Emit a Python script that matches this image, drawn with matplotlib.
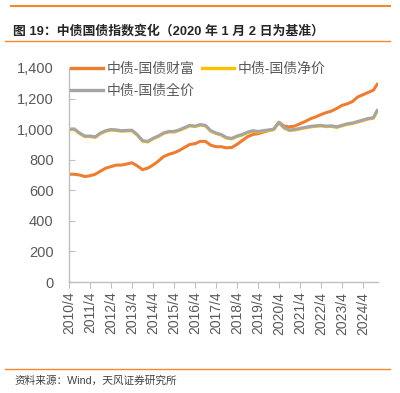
import matplotlib.pyplot as plt
from matplotlib.lines import Line2D
import pandas as pd

plt.rcParams['font.family'] = ['Liberation Sans', 'Noto Sans CJK SC']

# 季度数据（2020年1月2日 = 1000）
dates = list(pd.date_range('2010-04-01', '2024-10-01', freq='QS-JAN')) + [pd.Timestamp('2024-12-05')]

wealth = [705, 705, 700, 690, 695, 705, 725, 745, 755, 765, 765, 772, 780, 760, 735,
          745, 765, 790, 820, 835, 845, 860, 880, 900, 905, 920, 920, 895, 885, 885,
          878, 880, 900, 925, 950, 965, 970, 980, 990, 1000, 1045, 1020, 1015, 1020, 1035,
          1050, 1068, 1080, 1095, 1108, 1118, 1135, 1155, 1165, 1180, 1210, 1225, 1240, 1255, 1293]

full_price = [1000, 1002, 975, 955, 955, 950, 975, 990, 998, 995, 990, 992, 993, 965, 925,
              920, 940, 955, 975, 985, 985, 995, 1010, 1025, 1020, 1030, 1025, 990, 975, 965,
              945, 940, 955, 965, 980, 990, 985, 990, 995, 1000, 1045, 1010, 995, 998, 1005,
              1012, 1018, 1022, 1025, 1020, 1022, 1015, 1025, 1035, 1040, 1050, 1060, 1070, 1075, 1122]

net_price = [996, 998, 971, 951, 951, 946, 971, 986, 994, 991, 986, 988, 989, 961, 921,
             916, 936, 951, 971, 981, 981, 991, 1006, 1021, 1016, 1026, 1021, 986, 971, 961,
             941, 936, 951, 961, 976, 986, 981, 986, 991, 997, 1042, 1006, 991, 994, 1001,
             1008, 1014, 1018, 1021, 1016, 1018, 1011, 1021, 1031, 1036, 1046, 1056, 1066, 1071, 1117]

tick_years = list(range(2010, 2025))

c_wealth = '#ED7D31'
c_net = '#FFC000'
c_full = '#A5A5A5'
c_text = '#595959'

fig = plt.figure(figsize=(4, 3.93), dpi=100)
ax = fig.add_axes([0.1725, 0.2824, 0.7725, 0.5446])

ax.plot(dates, wealth, color=c_wealth, lw=2.2)
ax.plot(dates, net_price, color=c_net, lw=2.2)
ax.plot(dates, full_price, color=c_full, lw=2.2)

ax.set_ylim(0, 1400)
ax.set_yticks(range(0, 1401, 200))
ax.set_yticklabels([f'{v:,}' for v in range(0, 1401, 200)])
ax.set_xlim(pd.Timestamp('2010-04-01'), pd.Timestamp('2024-12-20'))
ax.set_xticks([pd.Timestamp(f'{y}-04-01') for y in tick_years])
ax.set_xticklabels([f'{y}/4' for y in tick_years], rotation=90)

for s in ['top', 'right']:
    ax.spines[s].set_visible(False)
for s in ['left', 'bottom']:
    ax.spines[s].set_color('#BFBFBF')
    ax.spines[s].set_linewidth(1.0)
ax.tick_params(axis='y', direction='in', length=4, color='#BFBFBF', labelsize=10.5, labelcolor=c_text, pad=11)
ax.tick_params(axis='x', direction='out', length=4, color='#BFBFBF', labelsize=10, labelcolor=c_text, pad=3)

handles = [Line2D([], [], color=c_wealth, lw=2.4),
           Line2D([], [], color=c_full, lw=2.4),
           Line2D([], [], color=c_net, lw=2.4)]
labels = ['中债-国债财富', '中债-国债全价', '中债-国债净价']
leg = ax.legend(handles, labels, ncol=2, loc='upper left', bbox_to_anchor=(-0.03, 1.08),
                frameon=False, fontsize=10, handlelength=2.3, handletextpad=0.3,
                columnspacing=0.5, labelspacing=0.55, borderpad=0.3)
for t in leg.get_texts():
    t.set_color(c_text)

# 标题和来源
fig.add_artist(Line2D([0.028, 0.975], [1 - 6 / 393] * 2, color='#F08A2C', lw=1.5))
fig.text(0.033, 1 - 31 / 393, '图 19：中债国债指数变化（2020 年 1 月 2 日为基准）',
         fontsize=9.3, fontweight='bold', color='#262626', va='center')
fig.add_artist(Line2D([0.013, 0.975], [1 - 41 / 393] * 2, color='#F08A2C', lw=1.0))
fig.add_artist(Line2D([0.013, 0.975], [1 - 369 / 393] * 2, color='#F08A2C', lw=1.0))
fig.text(0.035, 1 - 381 / 393, '资料来源：Wind，天风证券研究所',
         fontsize=7.7, color='#404040', va='center')

fig.savefig('out.png', dpi=100)
